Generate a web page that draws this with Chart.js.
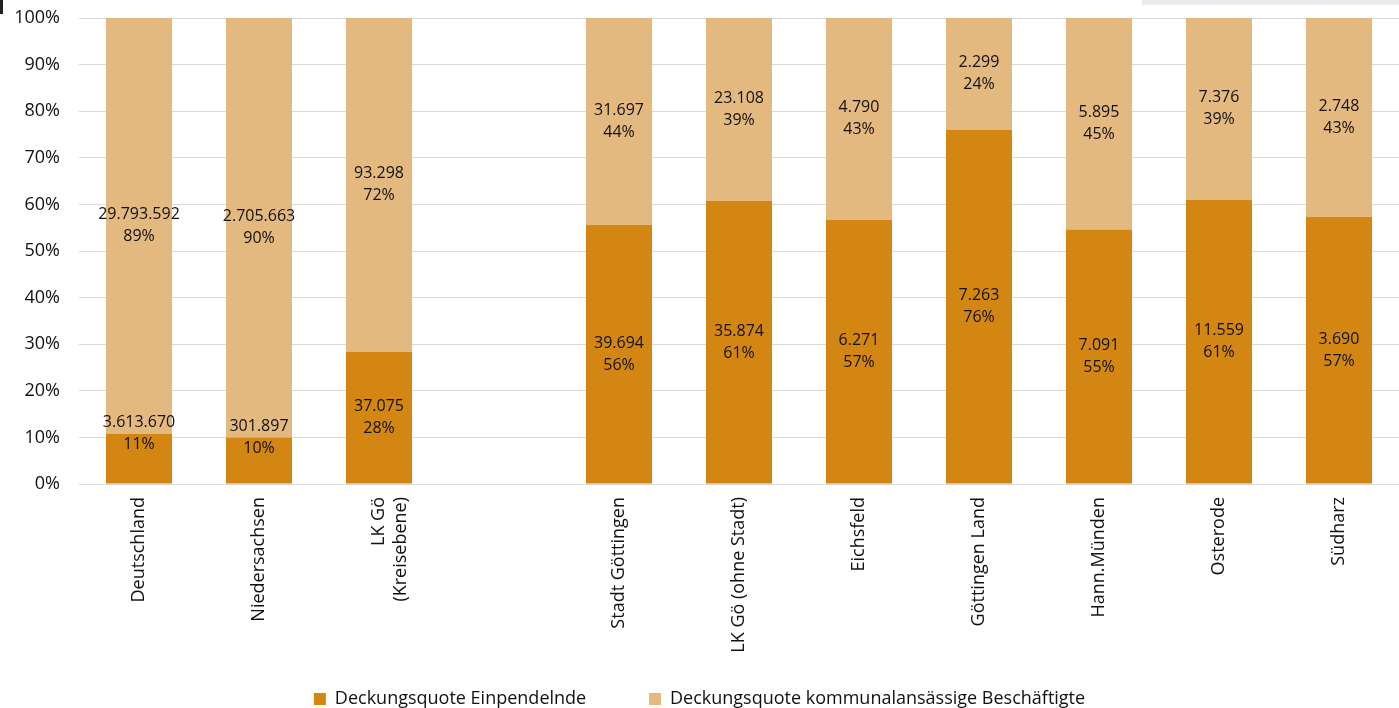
<!DOCTYPE html>
<html>
<head>
<meta charset="utf-8">
<script src="https://cdn.jsdelivr.net/npm/chart.js@4/dist/chart.umd.min.js"></script>
<style>
  html, body { margin: 0; padding: 0; background: #fff; }
  #wrap { width: 1399px; height: 708px; position: relative; }
</style>
</head>
<body>
<div id="wrap"><canvas id="myChart" width="1399" height="708"></canvas></div>
<script>
// categories (empty slot = gap between the two groups)
const categories = [
    'Deutschland', 'Niedersachsen', ['LK Gö', '(Kreisebene)'], '',
    'Stadt Göttingen', 'LK Gö (ohne Stadt)', 'Eichsfeld', 'Göttingen Land',
    'Hann.Münden', 'Osterode', 'Südharz'
];

// share in percent
const pctEinpendelnde = [10.8, 10.0, 28.4, null, 55.6, 60.8, 56.7, 76.0, 54.6, 61.0, 57.3];
const pctAnsaessige   = [89.2, 90.0, 71.6, null, 44.4, 39.2, 43.3, 24.0, 45.4, 39.0, 42.7];

// absolute numbers printed in the bars
const countEinpendelnde = ['3.613.670', '301.897', '37.075', '', '39.694', '35.874', '6.271', '7.263', '7.091', '11.559', '3.690'];
const countAnsaessige   = ['29.793.592', '2.705.663', '93.298', '', '31.697', '23.108', '4.790', '2.299', '5.895', '7.376', '2.748'];

// percent labels
const labelEinpendelnde = ['11%', '10%', '28%', '', '56%', '61%', '57%', '76%', '55%', '61%', '57%'];
const labelAnsaessige   = ['89%', '90%', '72%', '', '44%', '39%', '43%', '24%', '45%', '39%', '43%'];

const yTicks = [0, 10, 20, 30, 40, 50, 60, 70, 80, 90, 100];

const fontFamily = "'Open Sans', sans-serif";

// draws the two-line labels inside each segment
const segmentLabels = {
    id: 'segmentLabels',
    afterDatasetsDraw(chart) {
        const ctx = chart.ctx;
        const counts = [countEinpendelnde, countAnsaessige];
        const pcts = [labelEinpendelnde, labelAnsaessige];
        ctx.save();
        ctx.font = '16px ' + fontFamily;
        ctx.fillStyle = '#111';
        ctx.textAlign = 'center';
        ctx.textBaseline = 'middle';
        chart.data.datasets.forEach((ds, di) => {
            const meta = chart.getDatasetMeta(di);
            meta.data.forEach((bar, i) => {
                if (!counts[di][i]) return;
                const top = Math.min(bar.y, bar.base);
                const bottom = Math.max(bar.y, bar.base);
                let cy = (top + bottom) / 2;
                if (bottom - top < 60) cy = top; // small segments: label sits on the edge
                ctx.fillText(counts[di][i], bar.x, cy - 11);
                ctx.fillText(pcts[di][i], bar.x, cy + 11);
            });
        });
        ctx.restore();
    }
};

// small leftovers of the cropped screenshot
const cropMarks = {
    id: 'cropMarks',
    beforeDraw(chart) {
        const ctx = chart.ctx;
        ctx.save();
        ctx.fillStyle = '#ebebeb';
        ctx.fillRect(1142, 0, 257, 5);
        ctx.fillStyle = '#222';
        ctx.fillRect(0, 0, 3, 14);
        ctx.restore();
    }
};

const ctx = document.getElementById('myChart').getContext('2d');
const myChart = new Chart(ctx, {
    type: 'bar',
    data: {
        labels: categories,
        datasets: [
            {
                label: 'Deckungsquote Einpendelnde',
                data: pctEinpendelnde,
                backgroundColor: '#D38712',
                barPercentage: 0.55,
                categoryPercentage: 1.0
            },
            {
                label: 'Deckungsquote kommunalansässige Beschäftigte',
                data: pctAnsaessige,
                backgroundColor: '#E4B97F',
                barPercentage: 0.55,
                categoryPercentage: 1.0
            }
        ]
    },
    options: {
        responsive: false,
        animation: false,
        layout: { padding: { top: 18, right: 0, left: 0, bottom: -10 } },
        plugins: {
            legend: {
                position: 'bottom',
                labels: {
                    font: { family: fontFamily, size: 18 },
                    color: '#111',
                    boxWidth: 12,
                    boxHeight: 12,
                    padding: 2,
                    // trailing spaces give the wide gap between the two items
                    generateLabels(chart) {
                        const items = Chart.defaults.plugins.legend.labels.generateLabels(chart);
                        items[0].text = items[0].text + '             ';
                        return items;
                    }
                }
            },
            tooltip: { enabled: false }
        },
        scales: {
            x: {
                stacked: true,
                grid: { display: false },
                border: { display: false },
                ticks: {
                    font: { family: fontFamily, size: 18 },
                    color: '#111',
                    minRotation: 90,
                    maxRotation: 90,
                    autoSkip: false,
                    padding: 5
                },
                afterFit(scale) {
                    scale.height = 204;
                    scale.paddingLeft = 0;
                    scale.paddingRight = 0;
                }
            },
            y: {
                stacked: true,
                min: 0,
                max: 100,
                afterBuildTicks(scale) { scale.ticks = yTicks.map(v => ({ value: v })); },
                grid: { color: '#d9d9d9', drawTicks: false },
                border: { display: false },
                ticks: {
                    font: { family: fontFamily, size: 18 },
                    color: '#111',
                    padding: 19,
                    callback: v => v + '%'
                },
                afterFit(scale) {
                    scale.width = 79;
                    scale.paddingTop = 0;
                    scale.paddingBottom = 0;
                }
            }
        }
    },
    plugins: [segmentLabels, cropMarks]
});
</script>
</body>
</html>
